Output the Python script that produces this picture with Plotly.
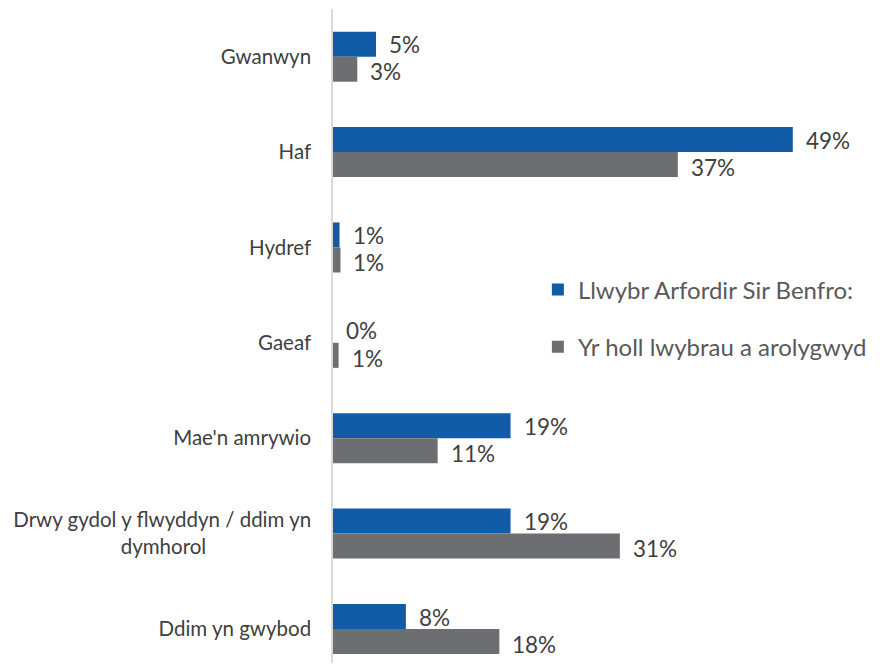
import plotly.graph_objects as go

categories = [
    "Gwanwyn",
    "Haf",
    "Hydref",
    "Gaeaf",
    "Mae'n amrywio",
    "Drwy gydol y flwyddyn / ddim yn<br>dymhorol" + "\u00a0" * 20,
    "Ddim yn gwybod",
]
series_names = ["Llwybr Arfordir Sir Benfro:", "Yr holl lwybrau a arolygwyd"]
pembs_values = [4.6, 49.2, 0.7, 0.0, 19.0, 19.0, 7.8]
all_values = [2.6, 36.9, 0.8, 0.6, 11.2, 30.7, 17.8]
pembs_labels = ["5%", "49%", "1%", "0%", "19%", "19%", "8%"]
all_labels = ["3%", "37%", "1%", "1%", "11%", "31%", "18%"]

BLUE = "#125CA7"
GREY = "#6D6E71"
FONT = "Lato, 'Open Sans', sans-serif"
TXT = "#404040"

fig = go.Figure()
fig.add_trace(go.Bar(
    y=categories, x=pembs_values, orientation="h", name=series_names[0],
    marker=dict(color=BLUE, line=dict(width=0)),
    legendgroup="a", hoverinfo="skip",
))
fig.add_trace(go.Bar(
    y=categories, x=all_values, orientation="h", name=series_names[1],
    marker=dict(color=GREY, line=dict(width=0)),
    legendgroup="b", hoverinfo="skip",
))

annotations = []
for i in range(len(categories)):
    annotations.append(dict(
        x=pembs_values[i], y=i - 0.125, xref="x", yref="y", text=pembs_labels[i],
        showarrow=False, xanchor="left", yanchor="middle", xshift=12, borderpad=0,
        font=dict(family=FONT, size=22.5, color=TXT),
    ))
    annotations.append(dict(
        x=all_values[i], y=i + 0.16, xref="x", yref="y", text=all_labels[i],
        showarrow=False, xanchor="left", yanchor="middle", xshift=12, borderpad=0,
        font=dict(family=FONT, size=22.5, color=TXT),
    ))

# The page body has an 8px default margin; the figure is sized to fit the window.
fig.update_layout(
    width=874, height=657,
    margin=dict(l=325, r=7, t=1, b=2),
    paper_bgcolor="white", plot_bgcolor="white",
    barmode="group", bargap=0.475, bargroupgap=0,
    font=dict(family=FONT, color=TXT),
    annotations=annotations,
    legend=dict(
        x=0.378, y=0.527, xanchor="left", yanchor="middle",
        traceorder="grouped", tracegroupgap=23,
        font=dict(family=FONT, size=24, color="#595959"),
        bgcolor="rgba(0,0,0,0)",
    ),
    xaxis=dict(range=[0, 58], visible=False, showgrid=False, zeroline=False),
    yaxis=dict(
        type="category", range=[6.357, -0.5],
        showline=True, linecolor="#D9D9D9", linewidth=1.5,
        showgrid=False, zeroline=False, ticks="",
        ticklabelstandoff=16,
        tickfont=dict(family=FONT, size=20.5, color=TXT),
    ),
)

fig.write_html("out.html")
